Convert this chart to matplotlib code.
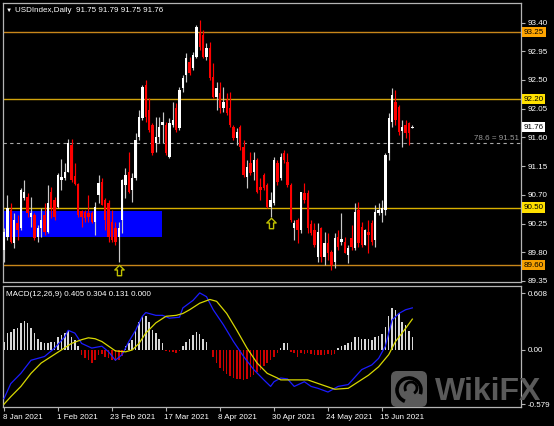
import numpy as np
import matplotlib
matplotlib.use("Agg")
import matplotlib.pyplot as plt
from matplotlib.path import Path
from matplotlib.patches import Rectangle, FancyBboxPatch, Arc
from matplotlib.transforms import blended_transform_factory, ScaledTranslation

plt.rcParams['font.family'] = ['Liberation Sans', 'DejaVu Sans']

# daily OHLC, 8 Jan 2021 .. 25 Jun 2021
opens = [89.84, 90.04, 90.46, 89.95, 90.26, 90.18, 90.65, 90.67, 90.35, 90.38,
         90.04, 90.18, 90.38, 90.12, 90.74, 90.62, 90.51, 90.93, 90.96, 91.06,
         91.48, 91.00, 90.87, 90.45, 90.43, 90.42, 90.42, 90.27, 90.70, 90.90,
         90.62, 90.57, 90.27, 90.18, 90.04, 90.31, 90.85, 91.06, 90.78, 90.96,
         91.61, 91.90, 92.42, 92.03, 91.79, 91.51, 91.61, 91.79, 91.79, 91.29,
         91.79, 92.06, 91.75, 92.37, 92.58, 92.78, 92.69, 92.86, 93.24, 93.20,
         92.86, 93.00, 92.55, 92.23, 92.30, 92.06, 92.19, 92.06, 91.76, 91.59,
         91.76, 91.45, 90.98, 91.20, 91.06, 91.25, 90.82, 91.01, 90.85, 90.51,
         90.57, 91.20, 90.96, 91.36, 91.21, 90.85, 90.18, 90.31, 90.15, 90.73,
         90.73, 90.25, 90.15, 89.73, 90.18, 89.73, 89.95, 89.80, 89.65, 90.04,
         89.96, 89.96, 89.76, 90.02, 89.87, 90.46, 90.20, 89.91, 90.12, 90.26,
         89.99, 90.42, 90.42, 90.46, 91.36, 91.84, 92.15, 92.08, 91.70, 91.79,
         91.83, 91.75]
highs = [90.18, 90.70, 90.57, 90.42, 90.38, 90.81, 90.93, 90.73, 90.67, 90.42,
         90.23, 90.49, 90.57, 90.85, 90.82, 90.67, 91.04, 91.26, 91.20, 91.58,
         91.58, 91.20, 90.89, 90.46, 90.46, 90.70, 90.45, 90.59, 91.01, 90.96,
         90.65, 90.62, 90.46, 90.27, 90.27, 90.95, 91.12, 91.37, 91.04, 91.67,
         92.03, 92.42, 92.50, 92.22, 91.83, 91.92, 91.92, 92.00, 91.84, 91.90,
         92.15, 92.14, 92.39, 92.58, 92.92, 92.86, 92.94, 93.36, 93.44, 93.28,
         93.08, 93.09, 92.77, 92.47, 92.47, 92.39, 92.30, 92.31, 91.79, 91.75,
         91.79, 91.56, 91.25, 91.37, 91.37, 91.28, 90.96, 91.04, 90.89, 90.74,
         91.29, 91.25, 91.36, 91.40, 91.36, 90.89, 90.31, 90.34, 90.74, 90.89,
         90.78, 90.30, 90.26, 90.26, 90.20, 90.12, 90.10, 89.84, 90.10, 90.15,
         90.42, 90.04, 89.91, 90.23, 90.57, 90.59, 90.27, 90.17, 90.31, 90.31,
         90.54, 90.57, 90.62, 91.36, 91.98, 92.37, 92.34, 92.11, 91.87, 91.87,
         91.84, 91.79]
lows = [89.65, 89.99, 89.95, 89.87, 89.99, 90.15, 90.62, 90.35, 90.20, 89.99,
        89.96, 90.04, 90.07, 90.10, 90.34, 90.31, 90.49, 90.78, 90.93, 91.06,
        90.90, 90.85, 90.35, 90.20, 90.27, 90.27, 90.26, 90.07, 90.57, 90.54,
        90.15, 89.96, 89.96, 89.91, 89.65, 90.10, 90.65, 90.73, 90.59, 90.93,
        91.56, 91.87, 91.84, 91.69, 91.32, 91.37, 91.51, 91.51, 91.32, 91.28,
        91.76, 91.69, 91.72, 92.31, 92.47, 92.58, 92.66, 92.84, 92.97, 92.84,
        92.81, 92.50, 92.22, 92.03, 91.98, 92.00, 91.95, 91.76, 91.56, 91.48,
        91.40, 90.98, 90.81, 91.01, 90.93, 90.73, 90.62, 90.78, 90.49, 90.35,
        90.54, 90.85, 90.93, 91.20, 90.82, 90.27, 89.99, 89.95, 90.10, 90.57,
        90.10, 90.07, 89.88, 89.65, 89.65, 89.60, 89.68, 89.52, 89.55, 89.84,
        89.91, 89.79, 89.63, 89.84, 89.84, 89.88, 89.88, 89.91, 89.79, 89.91,
        89.88, 90.38, 90.27, 90.38, 91.25, 91.76, 91.79, 91.64, 91.45, 91.59,
        91.48, 91.75]
closes = [90.12, 90.49, 89.96, 90.31, 90.15, 90.78, 90.74, 90.42, 90.42, 90.02,
          90.18, 90.31, 90.12, 90.57, 90.49, 90.35, 91.01, 90.98, 91.06, 91.51,
          90.93, 90.87, 90.38, 90.35, 90.34, 90.35, 90.27, 90.51, 90.89, 90.54,
          90.31, 90.04, 89.99, 89.96, 90.18, 90.93, 91.01, 90.74, 90.96, 91.56,
          91.92, 92.39, 91.92, 91.72, 91.36, 91.61, 91.76, 91.84, 91.36, 91.83,
          91.87, 91.72, 92.34, 92.53, 92.84, 92.61, 92.89, 93.33, 93.02, 92.86,
          93.00, 92.53, 92.23, 92.37, 92.06, 92.15, 91.98, 91.79, 91.59, 91.69,
          91.45, 91.01, 91.14, 91.04, 91.25, 90.74, 90.78, 90.81, 90.51, 90.62,
          91.25, 90.90, 91.29, 91.25, 90.85, 90.31, 90.26, 90.15, 90.74, 90.62,
          90.18, 90.10, 89.91, 90.12, 89.73, 89.95, 89.79, 89.60, 90.02, 89.88,
          90.00, 89.79, 89.87, 89.88, 90.43, 89.95, 89.91, 90.15, 90.07, 89.96,
          90.43, 90.46, 90.49, 91.32, 91.90, 92.26, 91.87, 91.69, 91.76, 91.67,
          91.67, 91.76]

# MACD(12,26,9) panel
hist = [0.09, 0.18, 0.19, 0.22, 0.23, 0.29, 0.31, 0.29, 0.23, 0.18,
        0.12, 0.09, 0.07, 0.07, 0.08, 0.09, 0.14, 0.16, 0.18, 0.20,
        0.14, 0.11, 0.04, -0.05, -0.09, -0.11, -0.14, -0.11, -0.05, -0.04,
        -0.07, -0.09, -0.11, -0.12, -0.11, -0.06, 0.04, 0.07, 0.11, 0.21,
        0.30, 0.36, 0.36, 0.30, 0.21, 0.18, 0.12, 0.07, -0.01, -0.02,
        -0.02, -0.03, -0.01, 0.04, 0.09, 0.12, 0.16, 0.19, 0.17, 0.12,
        0.08, 0.0, -0.07, -0.14, -0.19, -0.23, -0.26, -0.28, -0.30, -0.31,
        -0.31, -0.32, -0.31, -0.29, -0.27, -0.24, -0.21, -0.17, -0.14, -0.11,
        -0.07, -0.03, 0.02, 0.07, 0.07, -0.02, -0.03, -0.07, -0.03, -0.04,
        -0.03, -0.04, -0.05, -0.05, -0.05, -0.05, -0.04, -0.05, -0.04, 0.02,
        0.04, 0.05, 0.07, 0.08, 0.14, 0.14, 0.12, 0.12, 0.12, 0.11,
        0.14, 0.15, 0.17, 0.25, 0.36, 0.45, 0.43, 0.39, 0.30, 0.27,
        0.20, 0.14]
macd_idx = [0, 2, 5, 8, 10, 12, 15, 18, 19, 21, 23, 26, 29, 31, 33, 35, 37, 39, 41, 42,
            45, 47, 49, 52, 53, 56, 58, 60, 62, 65, 68, 71, 74, 77, 79, 80, 82, 84, 86, 89,
            91, 93, 96, 99, 102, 104, 106, 109, 111, 113, 114, 115, 117, 119, 121]
macd_val = [-0.52, -0.36, -0.25, -0.11, -0.09, -0.07, 0.02, 0.14, 0.21, 0.18,
            0.07, 0.02, 0.04, -0.02, -0.11, -0.05, 0.09, 0.21, 0.36, 0.40,
            0.37, 0.37, 0.34, 0.35, 0.45, 0.53, 0.61, 0.57, 0.43, 0.27,
            0.09, -0.07, -0.21, -0.32, -0.39, -0.34, -0.30, -0.31, -0.39, -0.34,
            -0.39, -0.41, -0.45, -0.39, -0.37, -0.29, -0.21, -0.16, -0.09, 0.04,
            0.18, 0.32, 0.39, 0.43, 0.45]
sig_idx = [0, 2, 5, 8, 11, 14, 17, 20, 23, 25, 27, 29, 31, 33, 36, 38, 40, 42, 45, 48,
           51, 53, 55, 58, 61, 63, 66, 69, 72, 75, 78, 81, 82, 90, 94, 98, 102, 105, 108, 111,
           114, 116, 119, 121]
sig_val = [-0.58, -0.50, -0.39, -0.25, -0.14, -0.07, 0.00, 0.07, 0.11, 0.13,
           0.12, 0.09, 0.04, -0.01, -0.02, 0.00, 0.07, 0.18, 0.29, 0.36,
           0.37, 0.39, 0.43, 0.50, 0.54, 0.52, 0.39, 0.21, 0.02, -0.14,
           -0.25, -0.30, -0.32, -0.32, -0.37, -0.42, -0.41, -0.34, -0.27, -0.18,
           -0.05, 0.09, 0.23, 0.33]

date_idx = [0, 16, 32, 48, 64, 80, 96, 112]
date_labels = ['8 Jan 2021', '1 Feb 2021', '23 Feb 2021', '17 Mar 2021',
               '8 Apr 2021', '30 Apr 2021', '24 May 2021', '15 Jun 2021']
price_ticks = [93.40, 92.95, 92.50, 92.05, 91.60, 91.15, 90.70, 90.25, 89.80, 89.35]

levels = [93.25, 92.20, 90.50, 89.60]
level_line = ['#c8861a', '#d2a40c', '#d8b000', '#c8861a']
level_box = ['#ffa500', '#ffe000', '#ffe000', '#f5a000']
fib_price = 91.51
last_price = 91.76
zone_x = [-1.0, 46.8]
zone_y = [90.04, 90.45]
arrow_idx = [34, 79]
arrow_price = [89.52, 90.26]

W, H = 554, 426
FS = 5.8
GRID = '#b4b4b4'

fig = plt.figure(figsize=(W / 100, H / 100), dpi=100, facecolor='black')


def px_box(l, t, r, b):
    return [l / W, 1 - b / H, (r - l) / W, (b - t) / H]


ax = fig.add_axes(px_box(3, 3, 521, 282))
ax2 = fig.add_axes(px_box(3, 286, 521, 407))
for a in (ax, ax2):
    a.set_facecolor('black')
    for s in a.spines.values():
        s.set_color(GRID)
        s.set_linewidth(0.9)
    a.set_xlim(-0.3, 153.2)

o = np.array(opens)
hi = np.array(highs)
lo = np.array(lows)
c = np.array(closes)
idx = np.arange(len(c))
up = c >= o

# candles
ax.vlines(idx[up], lo[up], hi[up], color='#c8c8c8', lw=0.85, zorder=3)
ax.vlines(idx[~up], lo[~up], hi[~up], color='#ff0000', lw=0.85, zorder=3)
body = np.maximum(np.abs(c - o), 0.012)
ax.bar(idx, body, bottom=np.minimum(o, c), width=0.7,
       color=np.where(up, 'white', '#ff0000'), linewidth=0, zorder=4)

# demand zone
ax.add_patch(Rectangle((zone_x[0], zone_y[0]), zone_x[1] - zone_x[0],
                       zone_y[1] - zone_y[0], fc='#0000ff', ec='none', zorder=1))

# levels
for lv, lc in zip(levels, level_line):
    ax.axhline(lv, color=lc, lw=1.0, zorder=2)
ax.axhline(fib_price, color='#a8a8a8', lw=0.8, ls=(0, (3, 3)), zorder=2)

# arrows
arrow = Path([(0, 1), (-0.9, 0.1), (-0.4, 0.1), (-0.4, -1), (0.4, -1), (0.4, 0.1), (0.9, 0.1), (0, 1)],
             [Path.MOVETO] + [Path.LINETO] * 6 + [Path.CLOSEPOLY])
ax.plot(arrow_idx, arrow_price, ls='none', marker=arrow, ms=7.5, mfc='black',
        mec='#c0c000', mew=1.0, zorder=5)

ax.set_ylim(89.334, 93.706)
ax.set_xticks([])
ax.yaxis.tick_right()
ax.set_yticks(price_ticks)
ax.set_yticklabels([f'{v:.2f}' for v in price_ticks])
ax.tick_params(axis='y', colors=GRID, labelcolor='white', length=3, width=0.8,
               pad=1.5, labelsize=FS)

tr = blended_transform_factory(ax.transAxes, ax.transData)
off = tr + ScaledTranslation(2.5 / 100, 0, fig.dpi_scale_trans)
for lv, bc in zip(levels, level_box):
    ax.text(1.0, lv, f'{lv:.2f}', transform=off, ha='left', va='center', fontsize=FS,
            color='black', bbox=dict(boxstyle='square,pad=0.22', fc=bc, ec='none'),
            clip_on=False, zorder=10)
ax.text(1.0, last_price, f'{last_price:.2f}', transform=off, ha='left', va='center',
        fontsize=FS, color='black', bbox=dict(boxstyle='square,pad=0.22', fc='white', ec='none'),
        clip_on=False, zorder=10)
ax.text(1.0, fib_price, f'78.6 = {fib_price:.2f}',
        transform=tr + ScaledTranslation(-2 / 100, 1 / 100, fig.dpi_scale_trans),
        ha='right', va='bottom', fontsize=FS, color='#9a9a9a')

# MACD panel
hist = np.array(hist)
ax2.bar(idx, hist, width=0.45, color=np.where(hist >= 0, '#d8d8d8', '#cc0000'),
        linewidth=0, zorder=2)
ax2.plot(macd_idx, macd_val, color='#1c1cff', lw=0.9, zorder=3)
ax2.plot(sig_idx, sig_val, color='#d8d800', lw=0.9, zorder=3)
ax2.set_ylim(-0.610, 0.684)
ax2.yaxis.tick_right()
ax2.set_yticks([0.608, 0.0, -0.579])
ax2.set_yticklabels(['0.608', '0.00', '-0.579'])
ax2.tick_params(axis='y', colors=GRID, labelcolor='white', length=3, width=0.8,
                pad=1.5, labelsize=FS)
ax2.set_xticks(date_idx)
ax2.set_xticklabels(date_labels, ha='left')
ax2.tick_params(axis='x', colors=GRID, labelcolor='white', length=3, width=0.8,
                pad=2, labelsize=FS)
for lab in ax2.get_xticklabels():
    lab.set_transform(lab.get_transform() + ScaledTranslation(-1.5 / 100, 0, fig.dpi_scale_trans))

# overlay in pixel coordinates: titles and watermark
ov = fig.add_axes([0, 0, 1, 1], zorder=5)
ov.set_xlim(0, W)
ov.set_ylim(H, 0)
ov.axis('off')
ov.patch.set_alpha(0)
ov.text(6, 10.5, '▼', fontsize=4.5, color='white', va='center', ha='left')
ov.text(15, 10.5, 'USDIndex,Daily  91.75 91.79 91.75 91.76', fontsize=FS,
        color='white', va='center', ha='left')
ov.text(6, 294, 'MACD(12,26,9) 0.405 0.304 0.131 0.000', fontsize=FS,
        color='white', va='center', ha='left')

ov.add_patch(FancyBboxPatch((391, 371), 36, 36, boxstyle='round,pad=0,rounding_size=6',
                            fc='#5a5a5a', ec='none'))
ov.add_patch(Arc((409, 390), 24, 24, theta1=110, theta2=20, color='black', lw=2.6))
ov.add_patch(Arc((411, 388), 12, 12, theta1=150, theta2=60, color='black', lw=2.0))
ov.text(435, 400, 'WikiFX', fontsize=23, fontweight='bold', color='#5a5a5a',
        ha='left', va='baseline', family='Liberation Sans')

fig.savefig('out.png', dpi=100, facecolor='black')
